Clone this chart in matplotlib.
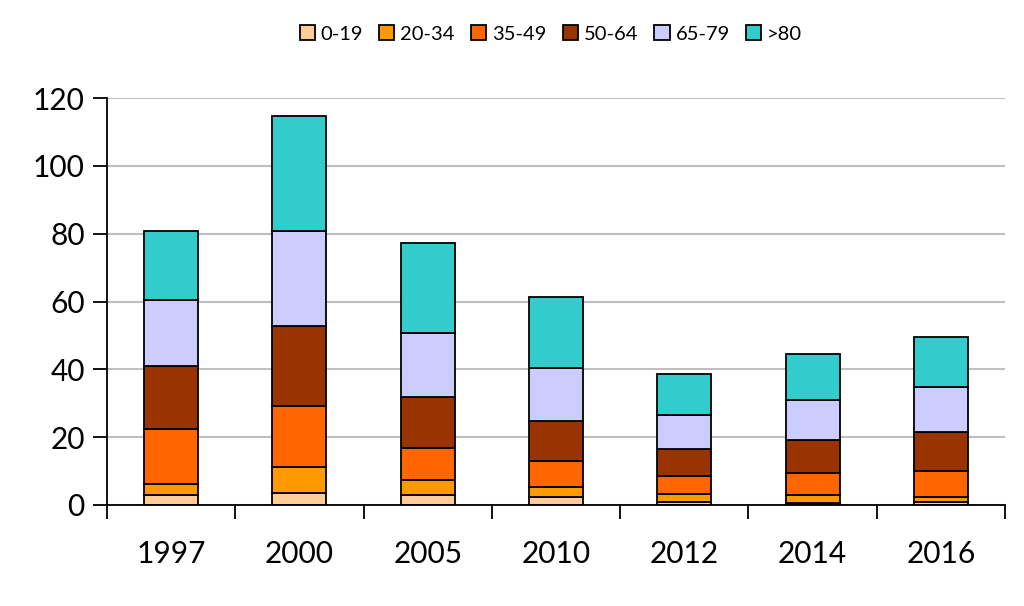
import numpy as np
import matplotlib.pyplot as plt
from matplotlib.ticker import FixedLocator

plt.rcParams['font.family'] = ['Lato', 'DejaVu Sans']

years = ['1997', '2000', '2005', '2010', '2012', '2014', '2016']
groups = ['0-19', '20-34', '35-49', '50-64', '65-79', '>80']
colors = ['#FFCC99', '#FF9900', '#FF6600', '#993300', '#CCCCFF', '#33CCCC']

g0_19 = [2.9, 3.4, 2.9, 2.3, 1.0, 0.7, 0.8]
g20_34 = [3.3, 7.8, 4.4, 2.9, 2.3, 2.2, 1.6]
g35_49 = [16.3, 18.1, 9.6, 7.8, 5.2, 6.6, 7.7]
g50_64 = [18.5, 23.6, 15.0, 11.9, 8.0, 9.7, 11.4]
g65_79 = [19.5, 27.9, 18.8, 15.6, 9.9, 11.8, 13.4]
g80 = [20.3, 33.9, 26.5, 20.8, 12.3, 13.5, 14.6]

series = [g0_19, g20_34, g35_49, g50_64, g65_79, g80]

fig = plt.figure(figsize=(10.24, 6.06), dpi=100)
ax = fig.add_axes([107 / 1024, 1 - 505 / 606, 898 / 1024, 407 / 606])

x = np.arange(len(years))
bottom = np.zeros(len(years))
for name, vals, c in zip(groups, series, colors):
    ax.bar(x, vals, 0.42, bottom=bottom, color=c, edgecolor='black',
           linewidth=1.3, label=name, zorder=3)
    bottom += np.array(vals)

ax.set_xlim(-0.5, len(years) - 0.5)
ax.set_ylim(0, 120)
ax.set_yticks(range(0, 121, 20))
ax.tick_params(axis='y', labelsize=21.5, length=10, width=1.3, direction='out', pad=6)
ax.yaxis.grid(True, color='#BFBFBF', linewidth=1.5, zorder=0)

ax.set_xticks(x)
ax.set_xticklabels(years)
ax.tick_params(axis='x', which='major', length=0, labelsize=21.5, pad=25)
ax.xaxis.set_minor_locator(FixedLocator(np.arange(-0.5, len(years), 1.0)))
ax.tick_params(axis='x', which='minor', length=10, width=1.3, direction='out')

for s in ['top', 'right']:
    ax.spines[s].set_visible(False)
for s in ['left', 'bottom']:
    ax.spines[s].set_linewidth(1.3)
    ax.spines[s].set_zorder(4)

fig.legend(loc='center', bbox_to_anchor=(0.538, 1 - 34 / 606), ncol=6,
           frameon=False, fontsize=14.5, handlelength=0.75, handleheight=0.75,
           handletextpad=0.3, columnspacing=0.8)

fig.savefig('out.png', dpi=100)
